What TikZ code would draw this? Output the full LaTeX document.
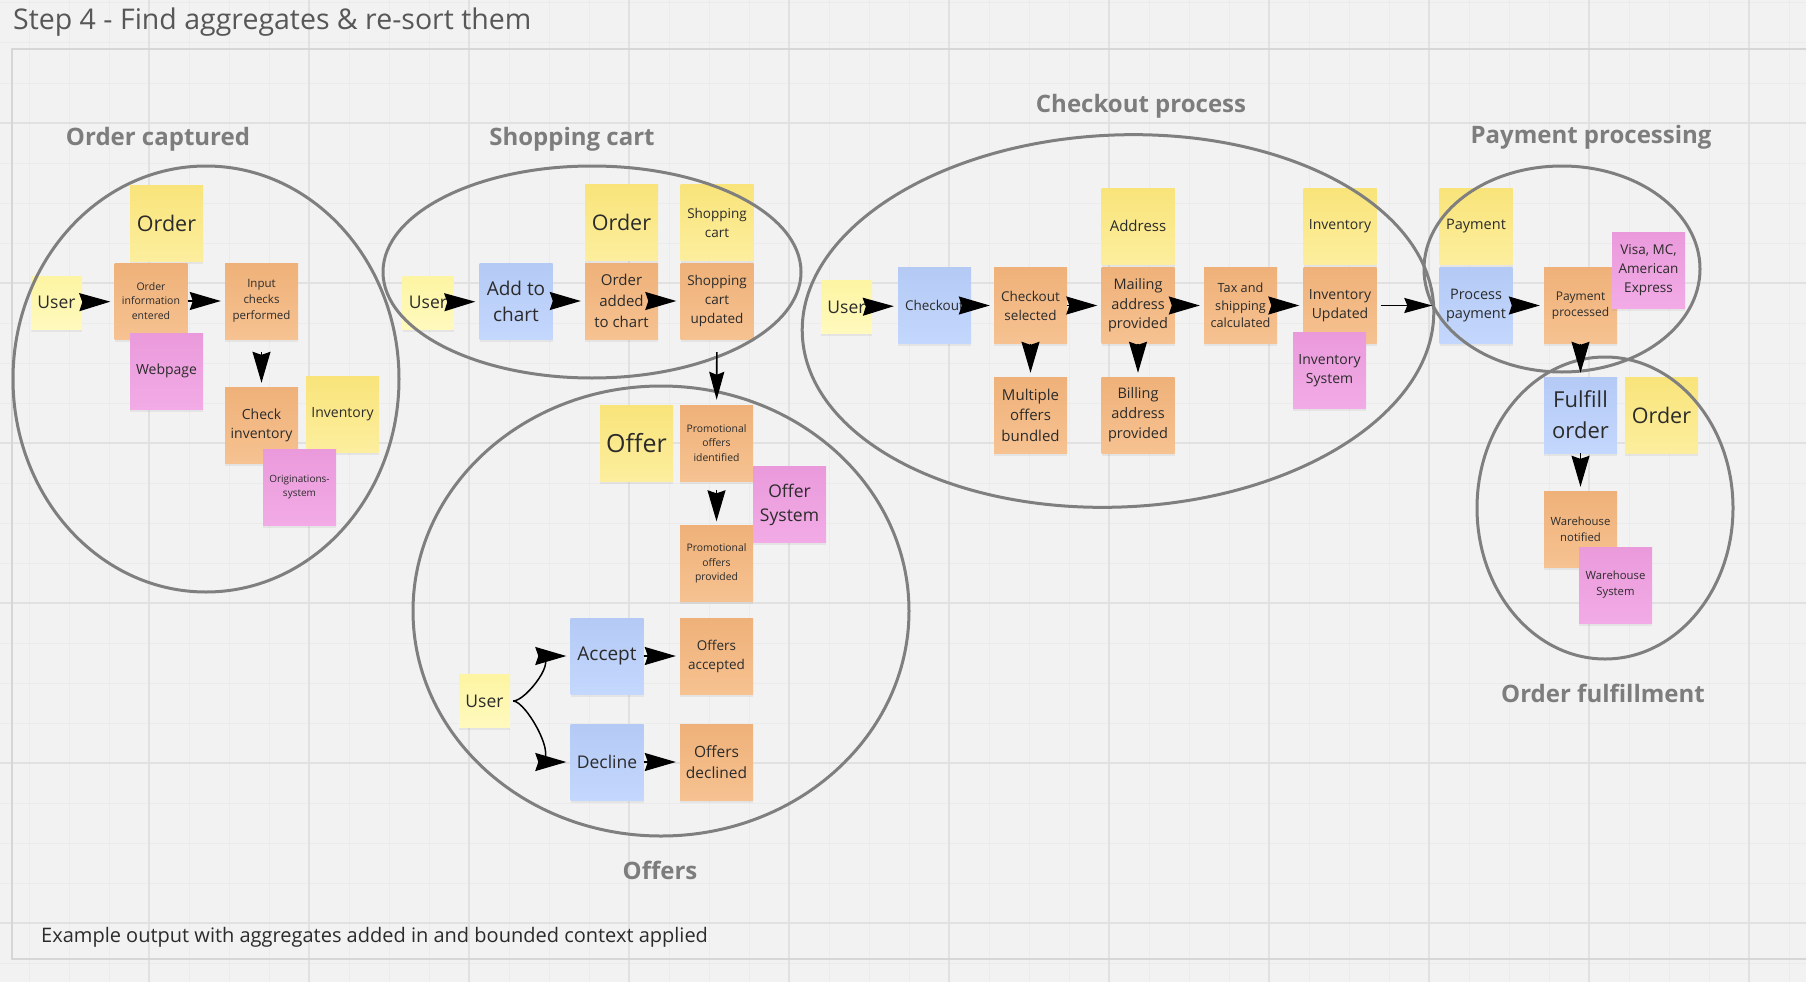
\documentclass[tikz,border=0pt]{standalone}
\usepackage{fontspec}
\setmainfont{Open Sans}
\usetikzlibrary{positioning, arrows.meta, shadows}
\definecolor{Canvas}{HTML}{F2F2F2}
\definecolor{GridMinor}{HTML}{EBEBEB}
\definecolor{GridMajor}{HTML}{E1E1E1}
\definecolor{FrameGray}{HTML}{D6D6D6}
\definecolor{RingGray}{HTML}{7F7F7F}
\definecolor{LabelGray}{HTML}{7D7D7D}
\definecolor{TitleGray}{HTML}{575757}
\definecolor{InkGray}{HTML}{2B2B2B}
\definecolor{EvtTop}{HTML}{EFB179}
\definecolor{EvtBot}{HTML}{F6C291}
\definecolor{AggTop}{HTML}{F9E47A}
\definecolor{AggBot}{HTML}{FCEE9E}
\definecolor{CmdTop}{HTML}{B4CAF5}
\definecolor{CmdBot}{HTML}{C4D7FD}
\definecolor{SysTop}{HTML}{EA9ADB}
\definecolor{SysBot}{HTML}{F2ABE6}
\definecolor{ActTop}{HTML}{FDF5A2}
\definecolor{ActBot}{HTML}{FFF9BE}
\newcommand{\stickysize}[2]{\fontsize{#1}{#2}\selectfont}

\begin{document}
\begin{tikzpicture}[
  x=1pt, y=-1pt,
  sticky/.style={minimum width=73pt, minimum height=76pt, inner sep=2pt, align=center, text=InkGray,
    drop shadow={shadow xshift=0pt, shadow yshift=-2.5pt, opacity=.12}},
  evt/.style={sticky, top color=EvtTop, bottom color=EvtBot},
  agg/.style={sticky, top color=AggTop, bottom color=AggBot},
  cmd/.style={sticky, top color=CmdTop, bottom color=CmdBot},
  sys/.style={sticky, top color=SysTop, bottom color=SysBot},
  actor/.style={sticky, minimum width=51pt, minimum height=53pt, top color=ActTop, bottom color=ActBot, font=\stickysize{17.5}{22}},
  ctx/.style={draw=RingGray, line width=3pt},
  ctxlabel/.style={anchor=base, font=\bfseries\stickysize{24}{28}, text=LabelGray},
  flow/.style={-{Stealth[length=31pt, width=18pt, inset=3pt]}, line width=1.2pt, shorten >=4pt},
  link/.style={-{Stealth[length=28pt, width=15pt, inset=3pt]}, line width=1.6pt},
]
  \useasboundingbox (0,0) rectangle (1806,982);

  % Board
  \fill[Canvas] (0,0) rectangle (1806,982);
  \foreach \gx in {29,69,...,1789} \draw[GridMinor, line width=1pt] (\gx,0) -- (\gx,982);
  \foreach \gy in {3,43,...,963} \draw[GridMinor, line width=1pt] (0,\gy) -- (1806,\gy);
  \foreach \gx in {149,309,...,1749} \draw[GridMajor, line width=2pt] (\gx,0) -- (\gx,982);
  \foreach \gy in {123,283,...,923} \draw[GridMajor, line width=2pt] (0,\gy) -- (1806,\gy);
  \draw[FrameGray, line width=1.5pt] (12,49) rectangle (1830,959);

  \node[anchor=base west, inner sep=0pt, font=\stickysize{28.5}{34}, text=TitleGray] (title) at (13,30) {Step 4 - Find aggregates \& re-sort them};
  \node[anchor=base west, inner sep=0pt, font=\stickysize{20}{24}, text=InkGray] (caption) at (41,942) {Example output with aggregates added in and bounded context applied};

  % Order captured
  \node[ctxlabel] (ocLabel) at (158,145) {Order captured};
  \node[actor] (ocUser) at (56.5,302.5) {User};
  \node[agg, font=\stickysize{21.5}{28}] (ocOrder) at (166.5,223) {Order};
  \node[evt, font=\stickysize{10.5}{14.5}] (ocEntered) at (151,301) {Order\\information\\entered};
  \node[sys, font=\stickysize{14}{19}] (ocWeb) at (166.5,371) {Webpage};
  \node[evt, font=\stickysize{11.5}{16}] (ocChecks) at (261.5,301) {Input\\checks\\performed};
  \node[evt, font=\stickysize{14}{19}] (ocCheckInv) at (261.5,425) {Check\\inventory};
  \node[agg, font=\stickysize{14}{19}] (ocInv) at (342.5,414) {Inventory};
  \node[sys, font=\stickysize{10}{14}] (ocOrig) at (299.5,487) {Originations-\\system};

  % Shopping cart
  \node[ctxlabel] (scLabel) at (572,145) {Shopping cart};
  \node[actor] (scUser) at (428,302.5) {User};
  \node[cmd, font=\stickysize{19}{26}] (scAdd) at (516,301) {Add to\\chart};
  \node[evt, font=\stickysize{15}{21}] (scAdded) at (621.5,301) {Order\\added\\to chart};
  \node[agg, font=\stickysize{21.5}{28}, above=2pt of scAdded] (scOrder) {Order};
  \node[evt, font=\stickysize{13.5}{19}] (scUpdated) at (717,301) {Shopping\\cart\\updated};
  \node[agg, font=\stickysize{13.5}{19}, above=2pt of scUpdated] (scCart) {Shopping\\cart};

  % Offers
  \node[ctxlabel] (ofLabel) at (660,879) {Offers};
  \node[agg, font=\stickysize{25}{32}] (ofOffer) at (636.5,443) {Offer};
  \node[evt, font=\stickysize{10.4}{14.5}] (ofIdent) at (716.5,443) {Promotional\\offers\\identified};
  \node[evt, font=\stickysize{10.4}{14.5}] (ofProvided) at (716.5,563.5) {Promotional\\offers\\provided};
  \node[sys, font=\stickysize{17.5}{24}] (ofSys) at (789.5,504.5) {Offer\\System};
  \node[actor] (ofUser) at (484.5,701) {User};
  \node[cmd, font=\stickysize{19}{26}] (ofAccept) at (607,656) {Accept};
  \node[evt, font=\stickysize{13.5}{19}] (ofAccepted) at (716.5,656) {Offers\\accepted};
  \node[cmd, font=\stickysize{17.5}{24}] (ofDecline) at (607,762) {Decline};
  \node[evt, font=\stickysize{15.5}{21}] (ofDeclined) at (716.5,762) {Offers\\declined};

  % Checkout process
  \node[ctxlabel] (coLabel) at (1141,112) {Checkout process};
  \node[actor] (coUser) at (846.5,307) {User};
  \node[cmd, font=\stickysize{13.5}{19}] (coCheckout) at (934.5,305.5) {Checkout};
  \node[evt, font=\stickysize{13.5}{19}] (coSelected) at (1030.5,305.5) {Checkout\\selected};
  \node[evt, font=\stickysize{14.5}{19.5}] (coMailing) at (1138,305.5) {Mailing\\address\\provided};
  \node[agg, font=\stickysize{15}{20}, above=3pt of coMailing] (coAddress) {Address};
  \node[evt, font=\stickysize{12.7}{17.5}] (coTax) at (1240.5,305.5) {Tax and\\shipping\\calculated};
  \node[evt, font=\stickysize{14}{19}] (coUpdated) at (1340,305.5) {Inventory\\Updated};
  \node[agg, font=\stickysize{14}{19}, above=3pt of coUpdated] (coInv) {Inventory};
  \node[sys, font=\stickysize{14}{19}] (coInvSys) at (1329.5,370.5) {Inventory\\System};
  \node[evt, font=\stickysize{15}{20.5}] (coBundled) at (1030.5,415) {Multiple\\offers\\bundled};
  \node[evt, font=\stickysize{14.5}{20}] (coBilling) at (1138,415) {Billing\\address\\provided};

  % Payment processing
  \node[ctxlabel] (ppLabel) at (1591,143) {Payment processing};
  \node[cmd, font=\stickysize{14.5}{19}] (ppProcess) at (1476,305.5) {Process\\payment};
  \node[agg, font=\stickysize{14.5}{19}, above=3pt of ppProcess] (ppPayment) {Payment};
  \node[evt, font=\stickysize{12}{16}] (ppProcessed) at (1580.5,305.5) {Payment\\processed};
  \node[sys, font=\stickysize{13.5}{19}] (ppCards) at (1648.5,270) {Visa, MC,\\American\\Express};

  % Order fulfillment
  \node[ctxlabel] (ffLabel) at (1603,702) {Order fulfillment};
  \node[cmd, font=\stickysize{22}{31}] (ffFulfill) at (1580.5,415) {Fulfill\\order};
  \node[agg, font=\stickysize{21.5}{28}] (ffOrder) at (1661.5,415) {Order};
  \node[evt, font=\stickysize{11.3}{16}] (ffNotified) at (1580.5,529) {Warehouse\\notified};
  \node[sys, font=\stickysize{11.3}{16}] (ffSys) at (1615.5,585) {Warehouse\\System};

  % Bounded contexts
  \draw[ctx] (206,379) ellipse [x radius=193pt, y radius=213pt];
  \draw[ctx] (592,272) ellipse [x radius=209pt, y radius=106pt];
  \draw[ctx] (661,611) ellipse [x radius=248pt, y radius=225pt];
  \draw[ctx, rotate around={2.5:(1118,321)}] (1118,321) ellipse [x radius=316pt, y radius=186pt];
  \draw[ctx] (1562,269) ellipse [x radius=138pt, y radius=103pt];
  \draw[ctx] (1605,508) ellipse [x radius=128pt, y radius=151pt];

  % Flow
  \draw[flow] (ocUser) -- (ocEntered);
  \draw[flow] (ocEntered) -- (ocChecks);
  \draw[flow, shorten <=13pt] (ocChecks) -- (ocCheckInv);

  \draw[flow] (scUser) -- (scAdd);
  \draw[flow] (scAdd) -- (scAdded);
  \draw[flow] (scAdded) -- (scUpdated);
  \draw[link, shorten <=13pt, shorten >=5pt] (scUpdated) -- (ofIdent);

  \draw[flow, shorten <=9pt] (ofIdent) -- (ofProvided);
  \draw[flow, line width=1.5pt, shorten <=3pt] (ofUser.east) .. controls +(16,0) and +(-10,0) .. (ofAccept.west);
  \draw[flow, line width=1.5pt, shorten <=3pt] (ofUser.east) .. controls +(16,0) and +(-10,0) .. (ofDecline.west);
  \draw[flow] (ofAccept) -- (ofAccepted);
  \draw[flow] (ofDecline) -- (ofDeclined);

  \draw[flow] (coUser) -- (coCheckout);
  \draw[flow] (coCheckout) -- (coSelected);
  \draw[flow] (coSelected) -- (coMailing);
  \draw[flow] (coMailing) -- (coTax);
  \draw[flow] (coTax) -- (coUpdated);
  \draw[flow] (coSelected) -- (coBundled);
  \draw[flow] (coMailing) -- (coBilling);
  \draw[link, shorten <=4pt, shorten >=7pt] (coUpdated) -- (ppProcess);

  \draw[flow] (ppProcess) -- (ppProcessed);
  \draw[flow] (ppProcessed) -- (ffFulfill);
  \draw[flow] (ffFulfill) -- (ffNotified);
\end{tikzpicture}
\end{document}
